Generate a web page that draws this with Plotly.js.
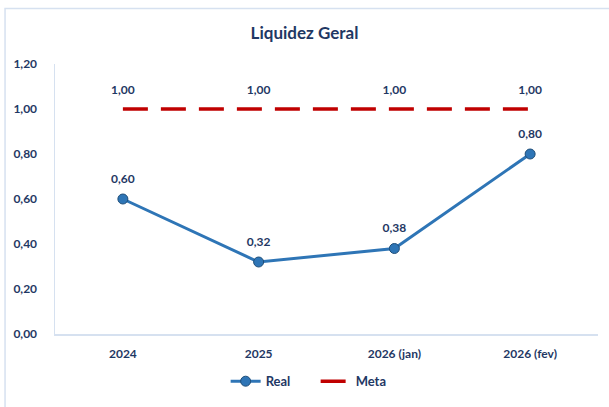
<!DOCTYPE html>
<html>
<head>
<meta charset="utf-8">
<script src="https://cdn.plot.ly/plotly-3.0.1.min.js"></script>
<style>html,body{margin:0;padding:0;background:#fff;}#chart{width:609px;height:407px;}</style>
</head>
<body>
<div id="chart"></div>
<script>
const categories = ["2024", "2025", "2026 (jan)", "2026 (fev)"];
const realValues = [0.60, 0.32, 0.38, 0.80];
const metaValues = [1.00, 1.00, 1.00, 1.00];
const yTickValues = [0, 0.2, 0.4, 0.6, 0.8, 1.0, 1.2];

const fmt = v => v.toFixed(2).replace('.', ',');
const navy = '#1f3864';
const fontFamily = 'Lato, "Open Sans", sans-serif';
const labelFont = {family: fontFamily, size: 12, color: navy, weight: 'bold'};

const traces = [
  {
    x: categories, y: realValues, name: 'Real', type: 'scatter', mode: 'lines+markers',
    line: {color: '#2e75b6', width: 3},
    marker: {size: 10, color: '#2e75b6', line: {color: '#1f4e79', width: 1}},
    cliponaxis: false
  },
  {
    x: categories, y: metaValues, name: 'Meta', type: 'scatter', mode: 'lines',
    line: {color: '#c00000', width: 3.5, dash: '25px,13px'},
    cliponaxis: false
  },
  {
    x: categories, y: realValues, type: 'scatter', mode: 'markers+text', showlegend: false,
    marker: {size: 20, opacity: 0}, text: realValues.map(fmt), textposition: 'top center',
    textfont: labelFont, cliponaxis: false, hoverinfo: 'skip'
  },
  {
    x: categories, y: metaValues, type: 'scatter', mode: 'markers+text', showlegend: false,
    marker: {size: 18, opacity: 0}, text: metaValues.map(fmt), textposition: 'top center',
    textfont: labelFont, cliponaxis: false, hoverinfo: 'skip'
  }
];

const layout = {
  width: 609, height: 407,
  margin: {l: 55, r: 11, t: 64, b: 71},
  paper_bgcolor: '#ffffff', plot_bgcolor: '#ffffff',
  font: {family: fontFamily, color: navy},
  title: {text: '<b>Liquidez Geral</b>', x: 0.5, xanchor: 'center', y: 0.918, yanchor: 'middle',
          font: {family: fontFamily, size: 17, color: navy}},
  xaxis: {
    type: 'category', range: [-0.5, 3.5], showgrid: false, zeroline: false,
    showline: true, linecolor: '#d6e1f0', linewidth: 1.5,
    ticks: '', ticklabelstandoff: 8,
    tickfont: labelFont, fixedrange: true
  },
  yaxis: {
    range: [0, 1.2], tickvals: yTickValues, ticktext: yTickValues.map(fmt),
    showgrid: false, zeroline: false,
    showline: true, linecolor: '#d6e1f0', linewidth: 1.5,
    ticks: '', ticklabelstandoff: 14,
    tickfont: labelFont, fixedrange: true
  },
  showlegend: true,
  legend: {orientation: 'h', x: 0.48, xanchor: 'center', y: -0.175, yanchor: 'middle',
           font: {family: fontFamily, size: 13, color: navy, weight: 'bold'},
           entrywidth: 45, entrywidthmode: 'pixels', tracegroupgap: 0},
  shapes: [{
    type: 'rect', xref: 'paper', yref: 'paper',
    x0: -0.092, x1: 1.2, y0: -0.5, y1: 1.206,
    line: {color: '#d6e1f0', width: 1.5}, fillcolor: 'rgba(0,0,0,0)', layer: 'below'
  }]
};

Plotly.newPlot('chart', traces, layout, {displayModeBar: false, staticPlot: true});
</script>
</body>
</html>
